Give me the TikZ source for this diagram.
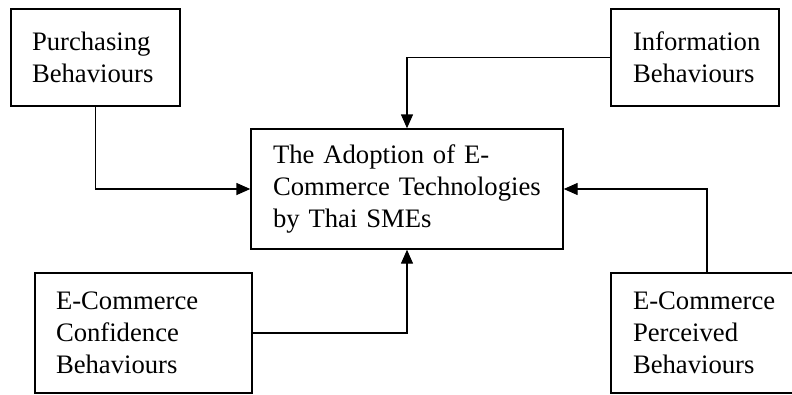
\documentclass[tikz,border=0pt]{standalone}
\usepackage{fontspec}
\setmainfont{Liberation Serif}
\usetikzlibrary{arrows.meta}
\tikzset{
  box/.style={draw, line width=1.05pt, rectangle, align=left, inner ysep=0pt,
    font=\fontsize{20pt}{24pt}\selectfont},
  conn/.style={line width=1.05pt, -{Triangle[length=10.5pt,width=9pt]}}
}
\begin{document}
\begin{tikzpicture}[x=0.75pt,y=-0.75pt]
\clip (0,0) rectangle (792,394);
\fill[white] (0,0) rectangle (792,394);
\node[box, inner xsep=15.75pt, text width=95.25pt, minimum height=72.75pt] (P) at (95.5,57.5) {Purchasing\\Behaviours};
\node[box, inner xsep=16.5pt, text width=93pt, minimum height=72.75pt] (I) at (695,57.5) {Information\\Behaviours};
\node[box, inner xsep=16.5pt, text width=201pt, minimum height=90pt] (C) at (407,189) {The Adoption of E-\\Commerce Technologies\\by Thai SMEs};
\node[box, inner xsep=15.75pt, text width=131.25pt, minimum height=90pt] (F) at (143.5,333) {E-Commerce\\Confidence\\Behaviours};
\node[box, inner xsep=16.5pt, text width=111pt, minimum height=90pt] (R) at (707,333) {E-Commerce\\Perceived\\Behaviours};
\draw[conn] (P.south) |- (C.west);
\draw[conn] (I.west) -| (C.north);
\draw[conn] (R.north) |- (C.east);
\draw[conn] (F.east) -| (C.south);
\end{tikzpicture}
\end{document}
